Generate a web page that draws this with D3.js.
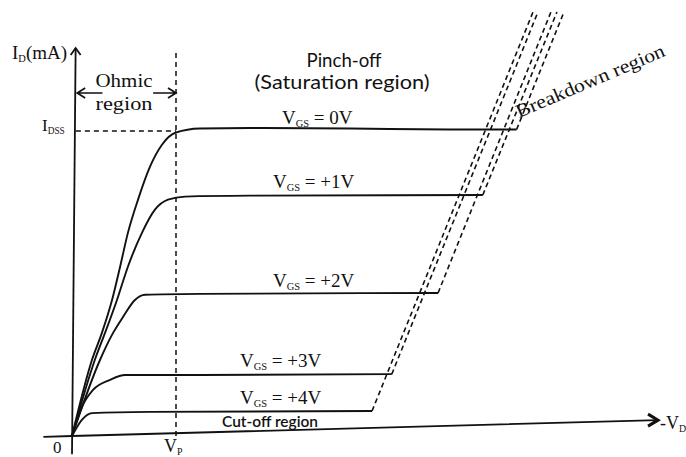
<!DOCTYPE html>
<html><head><meta charset="utf-8">
<script src="https://cdn.jsdelivr.net/npm/d3@7/dist/d3.min.js"></script>
<style>body{margin:0;background:#fff}svg{display:block}</style>
</head><body><svg id="c" width="686" height="457"></svg>
<script>
// ---- data (V_DS in arbitrary units, V_P = 4; I_D in mA, I_DSS = 10) ----
const vP = 4;
const iDSS = 10;
const vgsLabels = ["0V", "+1V", "+2V", "+3V", "+4V"];
const vdsVgs0 = [0, 0.77, 1.15, 1.54, 1.85, 2.15, 2.54, 3.0, 3.46, 4.0, 4.92, 6.85, 10.7, 14.5, 17.1];
const idVgs0  = [0, 2.5, 3.38, 4.46, 5.55, 6.66, 7.75, 8.83, 9.55, 9.95, 10.08, 10.1, 10.08, 10.05, 10.05];
const vdsVgs1 = [0, 0.88, 1.27, 1.73, 2.15, 2.69, 3.19, 3.69, 4.35, 6.85, 15.8];
const idVgs1  = [0, 2.5, 3.38, 4.46, 5.55, 6.66, 7.42, 7.75, 7.85, 7.88, 7.9];
const vdsVgs2 = [0, 1.08, 1.58, 1.96, 2.42, 2.81, 4.92, 14.08];
const idVgs2  = [0, 2.5, 3.38, 3.9, 4.46, 4.63, 4.66, 4.69];
const vdsVgs3 = [0, 0.38, 0.81, 1.46, 2.04, 4.92, 12.3];
const idVgs3  = [0, 0.95, 1.51, 1.84, 2.0, 2.0, 2.03];
const vdsVgs4 = [0, 0.38, 0.77, 3.0, 11.54];
const idVgs4  = [0, 0.53, 0.75, 0.79, 0.82];
const breakdownTopVds = [18.92, 18.65, 18.42, 17.92, 17.73];
const breakdownTopId = 13.9;
const xAxisVds = [-1.1, 0, 22.54];
const xAxisId  = [-0.03, 0, 0.52];

// ---- drawing ----
const svg = d3.select("#c");
const x = d3.scaleLinear().domain([0, vP]).range([72, 176]);
const y = d3.scaleLinear().domain([0, iDSS]).range([436, 131]);
const ink = "#111";
const serif = "'Liberation Serif', serif";
const sans = "Lato, 'Open Sans', sans-serif";

const smooth = d3.line().x(d => x(d[0])).y(d => y(d[1])).curve(d3.curveMonotoneX);
const straight = d3.line().x(d => x(d[0])).y(d => y(d[1]));

const curves = [
  d3.zip(vdsVgs0, idVgs0), d3.zip(vdsVgs1, idVgs1), d3.zip(vdsVgs2, idVgs2),
  d3.zip(vdsVgs3, idVgs3), d3.zip(vdsVgs4, idVgs4)
];

// axes
svg.append("path").attr("d", straight(d3.zip(xAxisVds, xAxisId)))
  .attr("fill", "none").attr("stroke", ink).attr("stroke-width", 1.8);
const yTop = 12.72;
svg.append("path").attr("d", straight([[0, -0.6], [0.14, yTop]]))
  .attr("fill", "none").attr("stroke", ink).attr("stroke-width", 1.8);
// arrowheads
const xTip = [x(xAxisVds[2]), y(xAxisId[2])];
svg.append("path")
  .attr("d", `M${xTip[0]-10},${xTip[1]-6}L${xTip[0]},${xTip[1]}L${xTip[0]-10},${xTip[1]+6}`)
  .attr("fill", "none").attr("stroke", ink).attr("stroke-width", 3);
const yTip = [x(0.14), y(yTop)];
svg.append("path")
  .attr("d", `M${yTip[0]-5},${yTip[1]+7}L${yTip[0]},${yTip[1]}L${yTip[0]+5},${yTip[1]+7}`)
  .attr("fill", "none").attr("stroke", ink).attr("stroke-width", 1.8);

// V_P and I_DSS dashed guides
svg.append("path").attr("d", straight([[vP, 0], [vP, 12.65]]))
  .attr("fill", "none").attr("stroke", ink).attr("stroke-width", 1.5).attr("stroke-dasharray", "5,4");
svg.append("path").attr("d", straight([[0.15, iDSS], [vP, iDSS]]))
  .attr("fill", "none").attr("stroke", ink).attr("stroke-width", 1.5).attr("stroke-dasharray", "5,4");

// characteristic curves
svg.selectAll("path.curve").data(curves).join("path").attr("class", "curve")
  .attr("d", d => smooth(d)).attr("fill", "none").attr("stroke", ink).attr("stroke-width", 1.9);

// breakdown dashed lines
svg.selectAll("path.bd").data(curves).join("path").attr("class", "bd")
  .attr("d", (d, i) => straight([d[d.length - 1], [breakdownTopVds[i], breakdownTopId]]))
  .attr("fill", "none").attr("stroke", ink).attr("stroke-width", 1.6).attr("stroke-dasharray", "5,3.5");

// Ohmic arrows
const ay = 93;
svg.append("path").attr("d", `M${x(0.2)},${ay}L${x(1.17)},${ay}M${x(0.2)+8},${ay-5}L${x(0.2)},${ay}L${x(0.2)+8},${ay+5}`)
  .attr("fill", "none").attr("stroke", ink).attr("stroke-width", 1.7);
svg.append("path").attr("d", `M${x(3.12)},${ay}L${x(vP)},${ay}M${x(vP)-8},${ay-5}L${x(vP)},${ay}L${x(vP)-8},${ay+5}`)
  .attr("fill", "none").attr("stroke", ink).attr("stroke-width", 1.7);

// text helper
function label(tx, ty, parts, opts = {}) {
  const size = opts.size || 16;
  const t = svg.append("text").attr("x", tx).attr("y", ty)
    .attr("font-family", opts.font || serif).attr("font-size", size)
    .attr("font-weight", opts.weight || "normal")
    .attr("fill", ink).attr("text-anchor", opts.anchor || "start");
  if (opts.len) t.attr("textLength", opts.len).attr("lengthAdjust", "spacingAndGlyphs");
  if (opts.rotate) t.attr("transform", `rotate(${opts.rotate},${tx},${ty})`);
  parts.forEach(p => {
    const s = t.append("tspan").text(p.t);
    if (p.sub) s.attr("font-size", size * 0.55).attr("dy", 3);
    if (p.up) s.attr("dy", -3);
  });
  return t;
}

label(12, 59, [{t: "I"}, {t: "D", sub: true}, {t: "(mA)", up: true}], {size: 19});
label(42, 131, [{t: "I"}, {t: "DSS", sub: true}], {size: 17});
label(124, 87, [{t: "Ohmic"}], {size: 19, anchor: "middle", len: 57});
label(124, 110, [{t: "region"}], {size: 19, anchor: "middle", len: 57});
label(344, 67, [{t: "Pinch-off"}], {size: 19, anchor: "middle", font: sans, len: 75});
label(342, 89, [{t: "(Saturation region)"}], {size: 19, anchor: "middle", font: sans, len: 175});

const vgsLabelPos = [[282, 124], [273, 188], [273, 287], [240, 367], [240, 404]];
vgsLabels.forEach((v, i) => {
  label(vgsLabelPos[i][0], vgsLabelPos[i][1], [{t: "V"}, {t: "GS", sub: true}, {t: " = " + v, up: true}], {size: 19});
});
label(222, 427, [{t: "Cut-off region"}], {size: 15, font: sans, weight: 600, len: 96});
label(53, 453, [{t: "0"}], {size: 17});
label(164, 452, [{t: "V"}, {t: "P", sub: true}], {size: 18});
label(660, 429, [{t: "-V"}, {t: "D", sub: true}], {size: 18});
label(519, 118, [{t: "Breakdown region"}], {size: 19, rotate: -23, len: 160});
</script></body></html>
